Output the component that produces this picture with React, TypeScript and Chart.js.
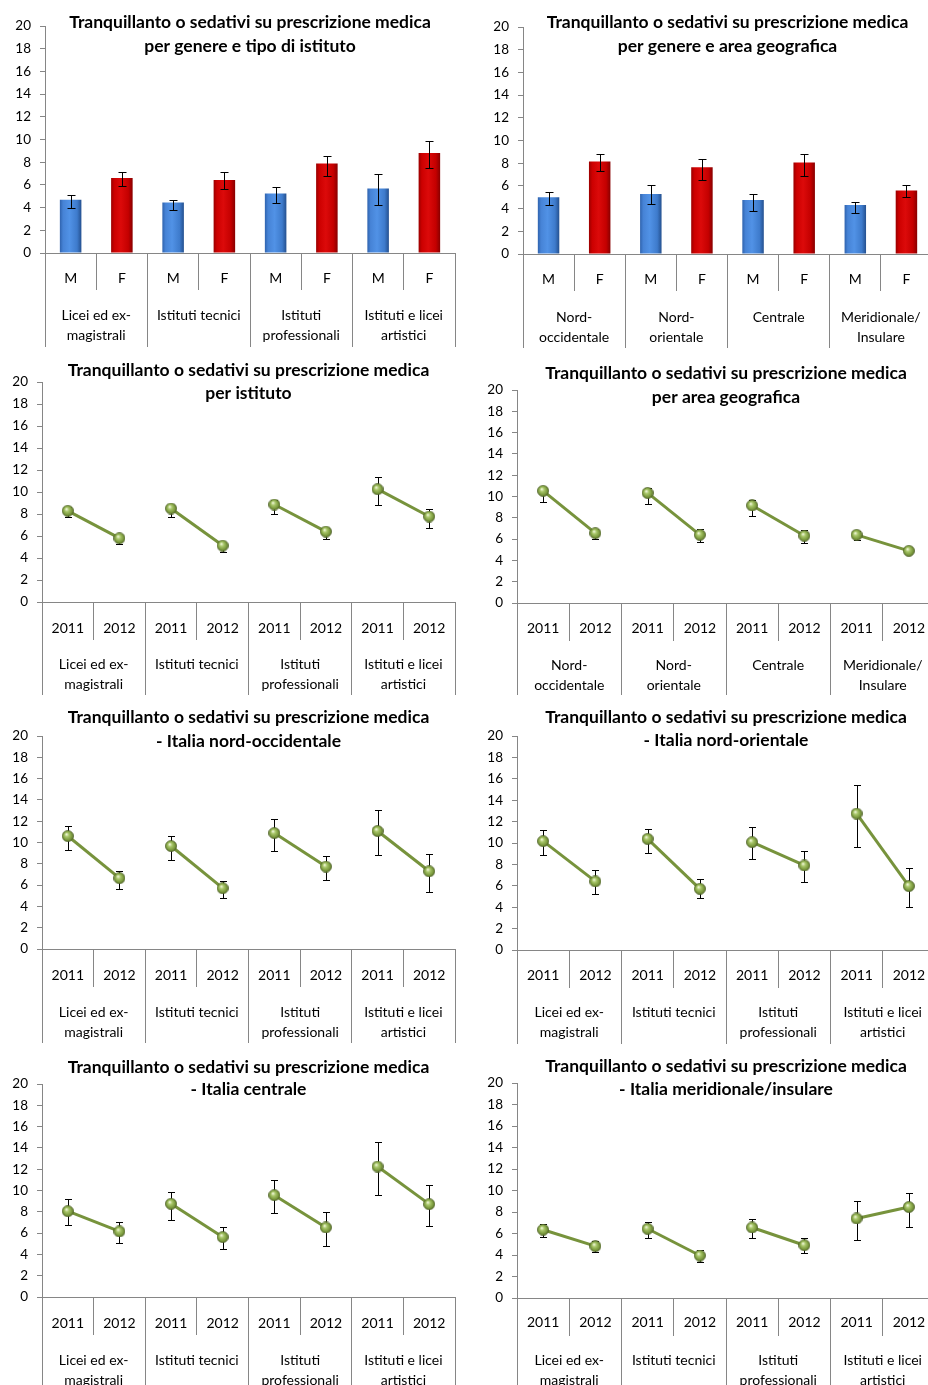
import React, { useEffect, useRef } from "react";
import { Chart, registerables } from "chart.js";

Chart.register(...registerables);

const FONT = "Lato, 'Open Sans', sans-serif";
const GRID = "#868686";
const GREEN = "#77933C";

const TITLE_MAIN = "Tranquillanto o sedativi su prescrizione medica";

const genderLabels = ["M", "F", "M", "F", "M", "F", "M", "F"];
const yearLabels = ["2011", "2012", "2011", "2012", "2011", "2012", "2011", "2012"];
const schoolGroups = [["Licei ed ex-", "magistrali"], ["Istituti tecnici"], ["Istituti", "professionali"], ["Istituti e licei", "artistici"]];
const areaGroups = [["Nord-", "occidentale"], ["Nord-", "orientale"], ["Centrale"], ["Meridionale/", "Insulare"]];

// Panel 1: per genere e tipo di istituto
const genderSchoolValues = [4.7, 6.6, 4.44, 6.44, 5.24, 7.88, 5.68, 8.82];
const genderSchoolLow = [3.97, 5.9, 3.8, 5.65, 4.4, 6.8, 4.24, 7.5];
const genderSchoolHigh = [5.09, 7.1, 4.65, 7.1, 5.8, 8.56, 6.94, 9.85];

// Panel 2: per genere e area geografica
const genderAreaValues = [5.01, 8.15, 5.28, 7.65, 4.75, 8.06, 4.31, 5.6];
const genderAreaLow = [4.28, 7.27, 4.4, 6.51, 3.78, 6.86, 3.64, 5.01];
const genderAreaHigh = [5.48, 8.83, 6.04, 8.39, 5.25, 8.83, 4.55, 6.04];

// Panel 3: per istituto
const schoolValues = [8.29, 5.8, 8.5, 5.13, 8.86, 6.4, 10.26, 7.77];
const schoolLow = [7.71, 5.31, 7.77, 4.58, 8.01, 5.74, 8.8, 6.74];
const schoolHigh = [8.65, 6.07, 8.83, 5.4, 9.26, 6.77, 11.32, 8.47];

// Panel 4: per area geografica
const areaValues = [10.53, 6.56, 10.34, 6.4, 9.16, 6.31, 6.4, 4.9];
const areaLow = [9.53, 6.03, 9.31, 5.69, 8.19, 5.59, 5.94, 4.75];
const areaHigh = [10.88, 6.97, 10.78, 6.97, 9.69, 6.81, 6.78, 5.05];

// Panel 5: Italia nord-occidentale
const nordOvestValues = [10.61, 6.65, 9.67, 5.71, 10.89, 7.74, 11.08, 7.3];
const nordOvestLow = [9.3, 5.68, 8.33, 4.77, 9.24, 6.49, 8.8, 5.34];
const nordOvestHigh = [11.58, 7.3, 10.61, 6.4, 12.17, 8.7, 13.01, 8.95];

// Panel 6: Italia nord-orientale
const nordEstValues = [10.17, 6.41, 10.39, 5.72, 10.08, 7.9, 12.75, 5.97];
const nordEstLow = [8.86, 5.19, 9.08, 4.82, 8.46, 6.35, 9.61, 3.98];
const nordEstHigh = [11.26, 7.5, 11.35, 6.59, 11.45, 9.27, 15.43, 7.68];

// Panel 7: Italia centrale
const centroValues = [8.06, 6.16, 8.75, 5.63, 9.56, 6.53, 12.25, 8.72];
const centroLow = [6.72, 5.09, 7.25, 4.53, 7.9, 4.81, 9.56, 6.63];
const centroHigh = [9.16, 7.0, 9.9, 6.53, 11.0, 7.97, 14.59, 10.53];

// Panel 8: Italia meridionale/insulare
const sudValues = [6.35, 4.82, 6.44, 3.95, 6.56, 4.91, 7.4, 8.46];
const sudLow = [5.63, 4.29, 5.54, 3.33, 5.54, 4.17, 5.44, 6.63];
const sudHigh = [6.9, 5.32, 7.06, 4.51, 7.34, 5.6, 9.05, 9.8];

type Panel = {
  kind: "bar" | "line";
  title: string[];
  sub: string[];
  groups: string[][];
  values: number[];
  low: number[];
  high: number[];
  left: number;
  width: number;
  L: number;
  R: number;
  T: number;
  B: number;
  minor: number;
  group: number;
  titleY: number[];
  subY: number;
  grpY: number;
};

const panels: Panel[] = [
  { kind: "bar", title: [TITLE_MAIN, "per genere e tipo di istituto"], sub: genderLabels, groups: schoolGroups,
    values: genderSchoolValues, low: genderSchoolLow, high: genderSchoolHigh,
    left: 0, width: 464, L: 45, R: 455, T: 26, B: 253, minor: 37, group: 57, titleY: [22, 46], subY: 278, grpY: 315 },
  { kind: "bar", title: [TITLE_MAIN, "per genere e area geografica"], sub: genderLabels, groups: areaGroups,
    values: genderAreaValues, low: genderAreaLow, high: genderAreaHigh,
    left: 464, width: 480, L: 523, R: 932, T: 27, B: 254, minor: 37, group: 57, titleY: [22, 46], subY: 279, grpY: 317 },
  { kind: "line", title: [TITLE_MAIN, "per istituto"], sub: yearLabels, groups: schoolGroups,
    values: schoolValues, low: schoolLow, high: schoolHigh,
    left: 0, width: 464, L: 42, R: 462, T: 382, B: 602, minor: 38, group: 55, titleY: [370, 393], subY: 628, grpY: 664 },
  { kind: "line", title: [TITLE_MAIN, "per area geografica"], sub: yearLabels, groups: areaGroups,
    values: areaValues, low: areaLow, high: areaHigh,
    left: 464, width: 480, L: 517, R: 938, T: 390, B: 603, minor: 38, group: 54, titleY: [373, 397], subY: 628, grpY: 665 },
  { kind: "line", title: [TITLE_MAIN, "- Italia nord-occidentale"], sub: yearLabels, groups: schoolGroups,
    values: nordOvestValues, low: nordOvestLow, high: nordOvestHigh,
    left: 0, width: 464, L: 42, R: 462, T: 736, B: 949, minor: 38, group: 56, titleY: [717, 741], subY: 975, grpY: 1012 },
  { kind: "line", title: [TITLE_MAIN, "- Italia nord-orientale"], sub: yearLabels, groups: schoolGroups,
    values: nordEstValues, low: nordEstLow, high: nordEstHigh,
    left: 464, width: 480, L: 517, R: 938, T: 736, B: 950, minor: 38, group: 56, titleY: [717, 740], subY: 975, grpY: 1012 },
  { kind: "line", title: [TITLE_MAIN, "- Italia centrale"], sub: yearLabels, groups: schoolGroups,
    values: centroValues, low: centroLow, high: centroHigh,
    left: 0, width: 464, L: 42, R: 462, T: 1084, B: 1297, minor: 38, group: 50, titleY: [1067, 1089], subY: 1323, grpY: 1360 },
  { kind: "line", title: [TITLE_MAIN, "- Italia meridionale/insulare"], sub: yearLabels, groups: schoolGroups,
    values: sudValues, low: sudLow, high: sudHigh,
    left: 464, width: 480, L: 517, R: 938, T: 1083, B: 1298, minor: 38, group: 49, titleY: [1066, 1089], subY: 1322, grpY: 1360 },
];

let sphereCache: HTMLCanvasElement | null = null;
function sphere(): HTMLCanvasElement {
  if (sphereCache) return sphereCache;
  const c = document.createElement("canvas");
  c.width = 12;
  c.height = 12;
  const g = c.getContext("2d")!;
  const grad = g.createRadialGradient(4.6, 4.2, 0.4, 6, 6, 6);
  grad.addColorStop(0, "#EEF5D6");
  grad.addColorStop(0.3, "#A9C76A");
  grad.addColorStop(0.75, "#77963A");
  grad.addColorStop(1, "#4F6228");
  g.fillStyle = grad;
  g.beginPath();
  g.arc(6, 6, 5.6, 0, Math.PI * 2);
  g.fill();
  g.strokeStyle = "rgba(79,98,40,0.8)";
  g.lineWidth = 0.8;
  g.stroke();
  sphereCache = c;
  return c;
}

const BAR_RATIO = 0.42;
const blueStops: [number, string][] = [[0, "#2F63AE"], [0.15, "#4683D6"], [0.45, "#5192E6"], [0.8, "#3E7BCC"], [1, "#24508F"]];
const redStops: [number, string][] = [[0, "#9A0000"], [0.15, "#CC0000"], [0.45, "#DC0A0A"], [0.8, "#C40000"], [1, "#880000"]];

function barColor(ctx: any) {
  const idx = ctx.dataIndex;
  const isM = typeof idx === "number" ? idx % 2 === 0 : true;
  const chart = ctx.chart;
  const xs = chart.scales && chart.scales.x;
  if (typeof idx !== "number" || !chart.chartArea || !xs) return isM ? "#4683D6" : "#CC0000";
  const n = xs.getLabels().length || 8;
  const cx = xs.getPixelForValue(idx);
  const w = (xs.width / n) * BAR_RATIO;
  const g = chart.ctx.createLinearGradient(cx - w / 2, 0, cx + w / 2, 0);
  (isM ? blueStops : redStops).forEach(([o, c]) => g.addColorStop(o, c));
  return g;
}

function ChartPanel({ p }: { p: Panel }) {
  const ref = useRef<HTMLCanvasElement>(null);
  const top = Math.max(0, p.T - 40);
  const height = p.B + p.minor + p.group - top;

  useEffect(() => {
    const canvas = ref.current!;
    const LABEL_SIZE = 14;
    const subLH = LABEL_SIZE * 1.2;
    const subPad = p.subY - p.B - p.minor - subLH / 2;
    const grpLH = 20;
    const grpPad = p.grpY - (p.B + p.minor) - p.group - grpLH / 2;

    const titlePlugin = {
      id: "panelTitle",
      afterDraw(chart: any) {
        const { ctx, chartArea } = chart;
        ctx.save();
        ctx.font = `bold 17.5px ${FONT}`;
        ctx.fillStyle = "#000";
        ctx.textAlign = "center";
        ctx.textBaseline = "middle";
        const cx = (chartArea.left + chartArea.right) / 2;
        p.title.forEach((t, i) => ctx.fillText(t, cx, p.titleY[i] - top + 0.5));
        ctx.restore();
      },
    };

    const drawErr = (chart: any) => {
      const ys = chart.scales.y;
      const meta = chart.getDatasetMeta(0);
      const ctx = chart.ctx;
      const cap = p.kind === "bar" ? 4 : 3.5;
      ctx.save();
      ctx.strokeStyle = "#000";
      ctx.lineWidth = 1;
      p.values.forEach((_v, i) => {
        const el = meta.data[i];
        if (!el) return;
        const x = Math.round(el.x) + 0.5;
        const y1 = Math.round(ys.getPixelForValue(p.low[i])) + 0.5;
        const y2 = Math.round(ys.getPixelForValue(p.high[i])) + 0.5;
        ctx.beginPath();
        ctx.moveTo(x, y1);
        ctx.lineTo(x, y2);
        ctx.moveTo(x - cap, y1);
        ctx.lineTo(x + cap, y1);
        ctx.moveTo(x - cap, y2);
        ctx.lineTo(x + cap, y2);
        ctx.stroke();
      });
      ctx.restore();
    };

    const errPlugin: any = { id: "errBars" };
    if (p.kind === "bar") errPlugin.afterDatasetsDraw = drawErr;
    else errPlugin.beforeDatasetsDraw = drawErr;

    const dataset: any =
      p.kind === "bar"
        ? {
            type: "bar",
            data: p.values,
            backgroundColor: barColor,
            borderWidth: 0,
            barPercentage: BAR_RATIO,
            categoryPercentage: 1,
            xAxisID: "x",
            yAxisID: "y",
          }
        : {
            type: "line",
            data: p.values,
            borderColor: GREEN,
            borderWidth: 3,
            tension: 0,
            pointStyle: sphere(),
            pointRadius: 6,
            pointHoverRadius: 6,
            xAxisID: "x",
            yAxisID: "y",
            segment: {
              borderColor: (c: any) => (c.p0DataIndex % 2 === 1 ? "rgba(0,0,0,0)" : GREEN),
            },
          };

    const chart = new Chart(canvas, {
      type: p.kind,
      data: { labels: p.sub, datasets: [dataset] },
      options: {
        animation: false,
        responsive: false,
        devicePixelRatio: 1,
        events: [],
        layout: {
          padding: { left: 0, top: p.T - top, right: p.left + p.width - p.R, bottom: 0 },
        },
        plugins: {
          legend: { display: false },
          tooltip: { enabled: false },
          title: { display: false },
        },
        scales: {
          x: {
            type: "category",
            axis: "x",
            position: "bottom",
            weight: 0,
            offset: true,
            grid: {
              display: true,
              drawOnChartArea: false,
              drawTicks: true,
              tickLength: p.minor,
              color: GRID,
              lineWidth: 1,
              offset: true,
            },
            border: { display: true, color: GRID, width: 1 },
            ticks: {
              autoSkip: false,
              maxRotation: 0,
              minRotation: 0,
              padding: subPad,
              color: "#000",
              font: { family: FONT, size: LABEL_SIZE, lineHeight: 1.2 },
            },
            afterFit: (s: any) => {
              s.height = p.minor;
            },
          },
          x2: {
            type: "category",
            axis: "x",
            position: "bottom",
            weight: 1,
            offset: true,
            labels: p.groups as any,
            grid: {
              display: true,
              drawOnChartArea: false,
              drawTicks: true,
              tickLength: p.group,
              color: GRID,
              lineWidth: 1,
              offset: true,
            },
            border: { display: false },
            ticks: {
              autoSkip: false,
              maxRotation: 0,
              minRotation: 0,
              padding: grpPad,
              color: "#000",
              font: { family: FONT, size: LABEL_SIZE, lineHeight: grpLH / LABEL_SIZE },
            },
            afterFit: (s: any) => {
              s.height = p.group;
            },
          },
          y: {
            type: "linear",
            position: "left",
            min: 0,
            max: 20,
            ticks: {
              stepSize: 2,
              padding: 9,
              color: "#000",
              font: { family: FONT, size: 13.5 },
            },
            grid: {
              display: true,
              drawOnChartArea: false,
              drawTicks: true,
              tickLength: 5,
              color: GRID,
              lineWidth: 1,
            },
            border: { display: true, color: GRID, width: 1 },
            afterFit: (s: any) => {
              s.width = p.L - p.left;
            },
          },
        } as any,
      },
      plugins: [errPlugin, titlePlugin],
    } as any);

    return () => chart.destroy();
  }, [p, top]);

  return (
    <canvas
      ref={ref}
      width={p.width}
      height={height}
      style={{ position: "absolute", left: p.left, top, width: p.width, height, display: "block" }}
    />
  );
}

export default function App() {
  return (
    <div
      style={{
        position: "absolute",
        left: 0,
        top: 0,
        width: 928,
        height: 1385,
        overflow: "hidden",
        background: "#fff",
      }}
    >
      {panels.map((p, i) => (
        <ChartPanel key={i} p={p} />
      ))}
    </div>
  );
}
